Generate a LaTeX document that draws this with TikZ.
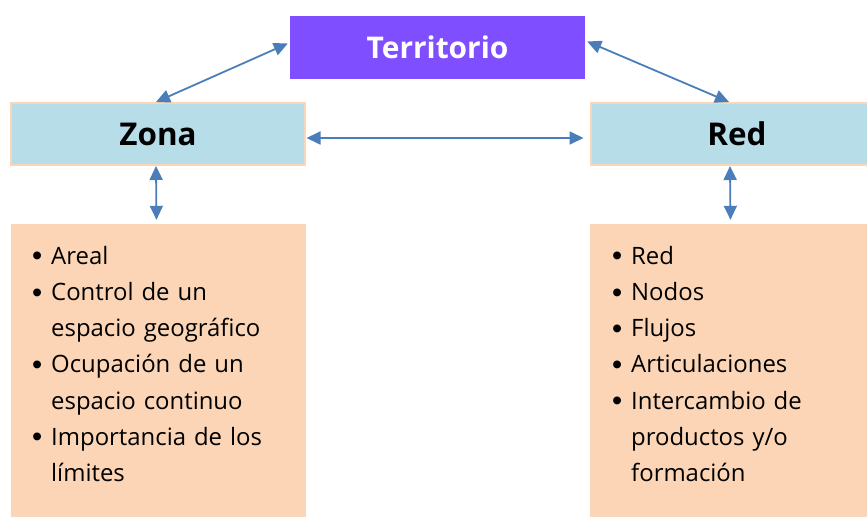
\documentclass[tikz,border=0pt]{standalone}
\usepackage{fontspec}
\setmainfont{Open Sans}
\newfontfamily\bulfont{Liberation Sans}
\usepackage{tikz}
\usetikzlibrary{arrows.meta,calc}
\definecolor{violeta}{HTML}{7F4FFF}
\definecolor{celeste}{HTML}{B7DDE8}
\definecolor{durazno}{HTML}{FBD5B5}
\definecolor{flecha}{HTML}{4A7EBB}
\newcommand{\bitem}[1]{\hangindent=19bp\hangafter=1\noindent\makebox[19bp][l]{\raisebox{-1.5bp}{\bulfont\fontsize{29}{29}\selectfont •}}#1\par}
\newcommand{\sigue}{\hfil\break}

\begin{document}
\begin{tikzpicture}[x=1bp, y=-1bp,
        caja/.style={fill=celeste, draw=durazno, line width=2bp, minimum width=293bp, minimum height=62bp, font=\bfseries\fontsize{31.5}{33}\selectfont},
        lista/.style={fill=durazno, minimum width=295bp, minimum height=293bp},
        doble/.style={flecha, line width=1.8bp, {Triangle[length=14bp,width=13bp]}-{Triangle[length=14bp,width=13bp]}}]
        \useasboundingbox (0, 0) rectangle (867, 517);
        % cajas
        \node[fill=violeta, minimum width=295bp, minimum height=63bp, text=white, font=\bfseries\fontsize{30}{32}\selectfont](terr) at (437.5, 47.5) {Territorio};
        \node[caja](zona) at (158, 134) {Zona};
        \node[caja](red) at (737, 134) {Red};
        \node[lista](zlist) at (158.5, 370.5) {};
        \node[lista](rlist) at (737.5, 370.5) {};
        % textos
        \node[anchor=north west, text width=300bp, inner sep=0pt, font=\fontsize{24}{36.3}\selectfont](ztxt) at (32, 246) {%
            \bitem{Areal}
            \bitem{Control de un\sigue espacio geográfico}
            \bitem{Ocupación de un\sigue espacio continuo}
            \bitem{Importancia de los\sigue límites}};
        \node[anchor=north west, text width=250bp, inner sep=0pt, font=\fontsize{24}{36.3}\selectfont](rtxt) at (612, 246) {%
            \bitem{Red}
            \bitem{Nodos}
            \bitem{Flujos}
            \bitem{Articulaciones}
            \bitem{Intercambio de\sigue productos y/o\sigue formación}};
        % flechas
        \draw[doble] ([xshift=-2bp]zona.north) -- ([xshift=-2bp, yshift=4bp]terr.west);
        \draw[doble] ([xshift=-8bp]red.north) -- ([xshift=2bp, yshift=6bp]terr.east);
        \draw[doble, shorten <=1bp, shorten >=6bp] ([yshift=-4bp]zona.east) -- ([yshift=-4bp]red.west);
        \draw[doble, shorten >=4bp] ([xshift=-2bp]zona.south) -- ([xshift=-2bp]zlist.north);
        \draw[doble, shorten >=4bp] ([xshift=-7bp]red.south) -- ([xshift=-7bp]rlist.north);
\end{tikzpicture}
\end{document}
